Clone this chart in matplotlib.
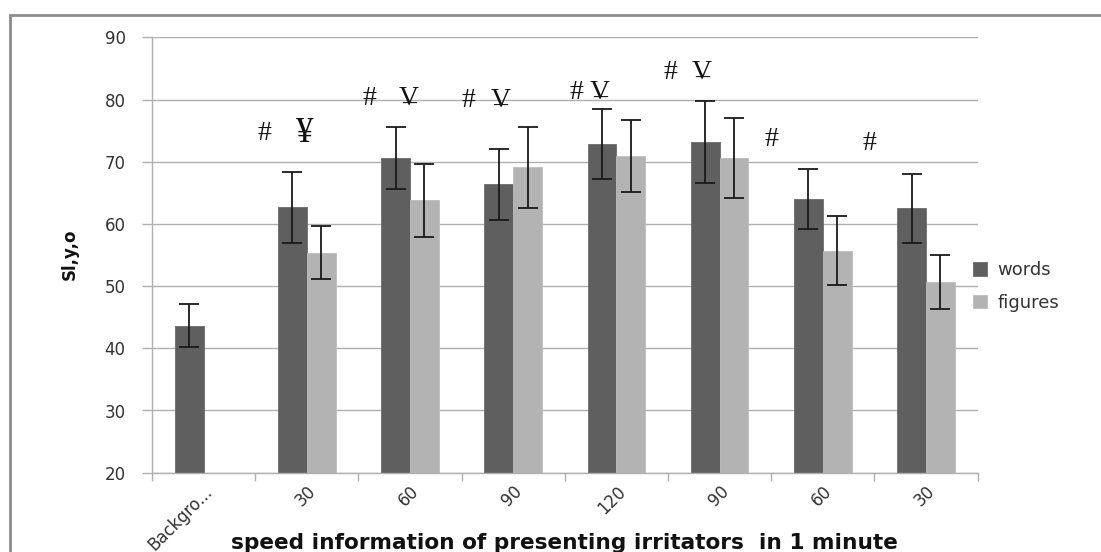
import numpy as np
import matplotlib
matplotlib.use("Agg")
import matplotlib.pyplot as plt
from matplotlib.patches import Rectangle

# ---- data ----
categories = ["Backgro...", "30", "60", "90", "120", "90", "60", "30"]
words = [43.6, 62.7, 70.6, 66.35, 72.8, 73.2, 64.0, 62.5]
words_err = [3.45, 5.7, 5.0, 5.75, 5.6, 6.6, 4.8, 5.6]
figures = [np.nan, 55.4, 63.8, 69.1, 70.9, 70.6, 55.7, 50.6]
figures_err = [np.nan, 4.3, 5.85, 6.5, 5.8, 6.5, 5.55, 4.35]
series_names = ["words", "figures"]
yticks = [20, 30, 40, 50, 60, 70, 80, 90]

# significance marks: (text, x in category units, y in data units)
mark_text = ["#", "¥", "#", "V", "#", "V", "#", "V", "#", "V", "#", "#"]
mark_x = [0.585, 0.978, 1.603, 1.990, 2.567, 2.877, 3.609, 3.841, 4.519, 4.829, 5.498, 6.453]
mark_y = [74.6, 74.6, 80.2, 80.2, 79.8, 79.8, 81.1, 81.1, 84.3, 84.3, 73.5, 73.0]

xlabel = "speed information of presenting irritators  in 1 minute"
ylabel = "Sl,y,o"

# ---- style ----
W, H = 1101, 552
fig = plt.figure(figsize=(W / 100, H / 100), dpi=100)
ax = fig.add_axes([152 / W, 1 - 472.7 / H, (977.6 - 152) / W, (472.7 - 37.3) / H])

c_words = "#5f5f5f"
c_fig = "#b3b3b3"
grid_c = "#b0b0b0"
txt_c = "#333333"

x = np.arange(len(categories))
bw = 0.28
ax.bar(x - bw / 2, words, bw, color=c_words, edgecolor="#6a6a6a", linewidth=0.6,
       label=series_names[0], zorder=2)
ax.bar(x + bw / 2, figures, bw, color=c_fig, edgecolor="#bdbdbd", linewidth=0.6,
       label=series_names[1], zorder=2)
ax.errorbar(x - bw / 2, words, yerr=words_err, fmt="none", ecolor="#1a1a1a",
            elinewidth=1.3, capsize=7, capthick=1.3, zorder=3)
ax.errorbar(x + bw / 2, figures, yerr=figures_err, fmt="none", ecolor="#1a1a1a",
            elinewidth=1.3, capsize=7, capthick=1.3, zorder=3)

ax.set_xlim(-0.5, len(categories) - 0.5)
ax.set_ylim(20, 90)
ax.set_yticks(yticks)
ax.yaxis.grid(True, color=grid_c, linewidth=1.0, zorder=0)
ax.set_axisbelow(True)

for s in ["top", "right"]:
    ax.spines[s].set_visible(False)
for s in ["left", "bottom"]:
    ax.spines[s].set_color(grid_c)
    ax.spines[s].set_linewidth(1.0)

ax.tick_params(axis="y", length=7, width=1.0, color=grid_c, pad=12,
               labelsize=12, labelcolor=txt_c)
ax.set_xticks(x)
ax.set_xticklabels(categories, rotation=45, ha="right", rotation_mode="anchor",
                   fontsize=12, color=txt_c)
ax.tick_params(axis="x", which="major", length=0, pad=7)
ax.set_xticks(np.arange(-0.5, len(categories), 1.0), minor=True)
ax.tick_params(axis="x", which="minor", length=6, width=1.0, color=grid_c)

# significance symbols
for t, mx, my in zip(mark_text, mark_x, mark_y):
    fs = 25 if t == "¥" else 20
    ax.text(mx, my, t, family="Liberation Serif", fontsize=fs, ha="center",
            va="center", color="#111111", zorder=4)
    if t == "V":
        ax.annotate("–", (mx, my), xytext=(0, -3.5), textcoords="offset points",
                    family="Liberation Serif", fontsize=20, ha="center",
                    va="center", color="#111111", zorder=4)

# legend
leg = fig.legend(loc="center left", bbox_to_anchor=(973 / W, 1 - 286.5 / H),
                 frameon=False, fontsize=13, handlelength=0.75, handleheight=0.75,
                 handletextpad=0.6, labelspacing=0.8, borderpad=0, borderaxespad=0)
for t in leg.get_texts():
    t.set_color(txt_c)

# axis titles
xl = fig.text(564.8 / W, 1 - 543 / H, xlabel, ha="center", va="center",
              fontsize=13, fontweight="bold", color="#111111")
yl = fig.text(70 / W, 1 - 254 / H, ylabel, ha="center", va="center",
              rotation=90, fontsize=12, fontweight="bold", color="#111111")

# fit x label width to ~664 px
fig.canvas.draw()
r = fig.canvas.get_renderer()
wpx = xl.get_window_extent(r).width
xl.set_fontsize(13 * 664 / wpx)

# outer border (left & top edges visible)
fig.add_artist(Rectangle((10 / W, -0.5), 2.0, 1.5 - 15 / H, transform=fig.transFigure,
                         fill=False, edgecolor="#8c8c8c", linewidth=2.0))

fig.savefig("out.png", dpi=100)
